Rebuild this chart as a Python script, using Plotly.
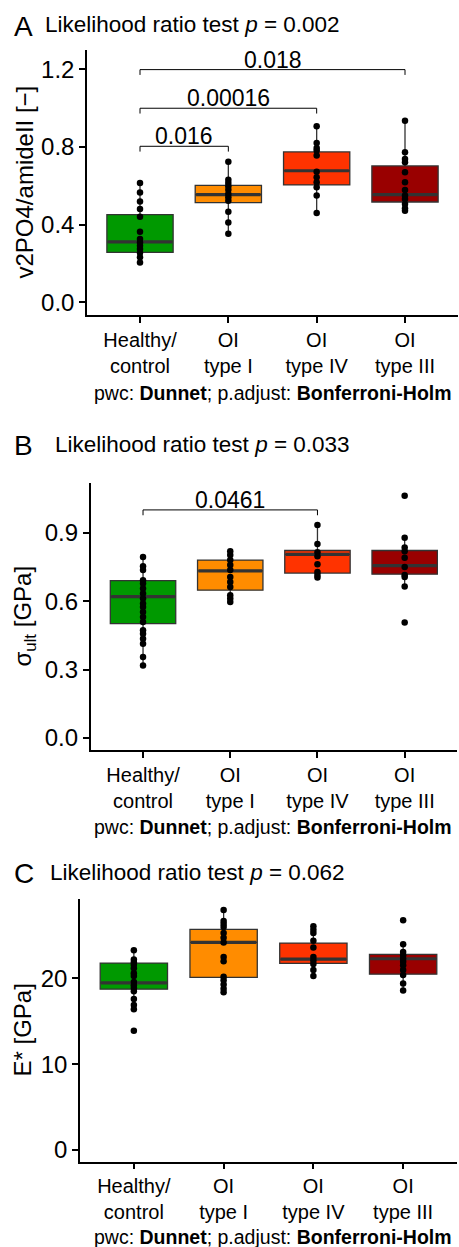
import plotly.graph_objects as go

W, H = 459, 1247

categories = ["Healthy/<br>control", "OI<br>type I", "OI<br>type IV", "OI<br>type III"]
fill_colors = ["#009900", "#FF8C00", "#FF3300", "#990000"]

# ---------------- Panel A: v2PO4/amideII ----------------
A_healthy = [0.615, 0.566, 0.519, 0.481, 0.441, 0.364, 0.326, 0.309, 0.292, 0.275, 0.254, 0.232, 0.206]
A_oi1 = [0.725, 0.632, 0.615, 0.598, 0.580, 0.558, 0.541, 0.524, 0.467, 0.412, 0.354]
A_oi4 = [0.907, 0.821, 0.795, 0.782, 0.756, 0.673, 0.644, 0.619, 0.593, 0.550, 0.460]
A_oi3 = [0.936, 0.773, 0.739, 0.722, 0.670, 0.619, 0.579, 0.550, 0.532, 0.507, 0.485, 0.472]
A_q1 = [0.258, 0.514, 0.605, 0.517]
A_med = [0.312, 0.555, 0.678, 0.555]
A_q3 = [0.452, 0.603, 0.775, 0.703]
A_lo = [0.206, 0.354, 0.460, 0.472]
A_hi = [0.615, 0.725, 0.907, 0.936]
A_pwc = [(1, 2, 0.804, "0.016"), (1, 3, 1.000, "0.00016"), (1, 4, 1.199, "0.018")]
A_ticks = [0.0, 0.4, 0.8, 1.2]
A_ticktext = ["0.0", "0.4", "0.8", "1.2"]

# ---------------- Panel B: sigma_ult ----------------
B_healthy = [0.794, 0.753, 0.736, 0.692, 0.677, 0.655, 0.633, 0.611, 0.589, 0.574, 0.552,
             0.530, 0.508, 0.472, 0.457, 0.435, 0.413, 0.355, 0.318]
B_oi1 = [0.819, 0.802, 0.780, 0.758, 0.736, 0.706, 0.684, 0.662, 0.626, 0.611, 0.596]
B_oi4 = [0.934, 0.850, 0.814, 0.797, 0.762, 0.728, 0.714, 0.704]
B_oi3 = [1.062, 0.878, 0.835, 0.819, 0.790, 0.750, 0.714, 0.706, 0.664, 0.506]
B_q1 = [0.501, 0.648, 0.723, 0.718]
B_med = [0.620, 0.733, 0.805, 0.756]
B_q3 = [0.690, 0.780, 0.822, 0.822]
B_lo = [0.318, 0.596, 0.704, 0.664]
B_hi = [0.794, 0.819, 0.934, 0.878]
B_pwc = [(1, 3, 1.000, "0.0461")]
B_ticks = [0.0, 0.3, 0.6, 0.9]
B_ticktext = ["0.0", "0.3", "0.6", "0.9"]

# ---------------- Panel C: E* ----------------
C_healthy = [23.3, 22.2, 21.9, 21.6, 21.2, 20.6, 20.3, 19.6, 19.2, 18.9, 18.5, 17.6, 16.9, 16.4, 13.9]
C_oi1 = [28.0, 26.7, 26.35, 26.0, 25.3, 24.75, 24.2, 22.5, 22.0, 20.2, 19.8, 19.3, 18.8, 18.4]
C_oi4 = [26.1, 25.7, 25.3, 24.4, 23.6, 22.5, 22.1, 21.7, 21.0, 20.3]
C_oi3 = [26.8, 24.0, 23.1, 22.7, 22.3, 21.95, 21.55, 21.0, 20.4, 19.4, 18.6]
C_q1 = [18.75, 20.12, 21.75, 20.50]
C_med = [19.49, 24.21, 22.26, 22.30]
C_q3 = [21.79, 25.73, 24.13, 22.81]
C_lo = [16.4, 18.4, 20.3, 18.6]
C_hi = [23.3, 28.0, 26.1, 24.0]
C_pwc = []
C_ticks = [0, 10, 20]
C_ticktext = ["0", "10", "20"]

titles = ["Likelihood ratio test <i>p</i> = 0.002",
          "Likelihood ratio test <i>p</i> = 0.033",
          "Likelihood ratio test <i>p</i> = 0.062"]
letters = ["A", "B", "C"]
ytitles = ["v2PO4/amideII [−]", "σ<sub>ult</sub> [GPa]", "E* [GPa]"]
caption = "pwc: <b>Dunnet</b>; p.adjust: <b>Bonferroni-Holm</b>"

FONT = "Liberation Sans, Arial, Helvetica, sans-serif"
BOXLINE = "#333333"


def px_x(x):
    return x / W


def px_y(y):
    return 1 - y / H


panels = [
    dict(groups=[A_healthy, A_oi1, A_oi4, A_oi3], q1=A_q1, med=A_med, q3=A_q3, lo=A_lo, hi=A_hi,
         pwc=A_pwc, ticks=A_ticks, ticktext=A_ticktext, yrange=[-0.065, 1.30],
         box=(87, 50, 458, 315), letter_xy=(12, 27), title_x=43, title_y=25,
         ytitle_x=24, caption_y=393),
    dict(groups=[B_healthy, B_oi1, B_oi4, B_oi3], q1=B_q1, med=B_med, q3=B_q3, lo=B_lo, hi=B_hi,
         pwc=B_pwc, ticks=B_ticks, ticktext=B_ticktext, yrange=[-0.053, 1.118],
         box=(90.7, 483, 457, 750), letter_xy=(12, 445), title_x=53, title_y=444,
         ytitle_x=24, caption_y=827),
    dict(groups=[C_healthy, C_oi1, C_oi4, C_oi3], q1=C_q1, med=C_med, q3=C_q3, lo=C_lo, hi=C_hi,
         pwc=C_pwc, ticks=C_ticks, ticktext=C_ticktext, yrange=[-1.39, 29.24],
         box=(80, 899.3, 457, 1161.7), letter_xy=(12, 873), title_x=48, title_y=872,
         ytitle_x=22, caption_y=1237),
]

fig = go.Figure()
annotations = []
BOX_W = 0.75

for p_i, pn in enumerate(panels):
    sfx = "" if p_i == 0 else str(p_i + 1)
    xa, ya = "x" + sfx, "y" + sfx
    yspan = pn["yrange"][1] - pn["yrange"][0]
    for g in range(4):
        xc = g + 1
        fig.add_trace(go.Box(
            x=[xc], q1=[pn["q1"][g]], median=[pn["med"][g]], q3=[pn["q3"][g]],
            lowerfence=[pn["lo"][g]], upperfence=[pn["hi"][g]],
            width=BOX_W, whiskerwidth=0, boxpoints=False,
            fillcolor=fill_colors[g], line=dict(color=BOXLINE, width=1.3),
            xaxis=xa, yaxis=ya, showlegend=False, hoverinfo="skip"))
        # thick median line (ggplot fatten)
        fig.add_trace(go.Scatter(
            x=[xc - BOX_W / 2 + 0.01, xc + BOX_W / 2 - 0.01], y=[pn["med"][g]] * 2,
            mode="lines", line=dict(color=BOXLINE, width=3.2),
            xaxis=xa, yaxis=ya, showlegend=False, hoverinfo="skip"))
    for g in range(4):
        vals = pn["groups"][g]
        fig.add_trace(go.Scatter(
            x=[g + 1] * len(vals), y=vals, mode="markers",
            marker=dict(color="black", size=6.5),
            xaxis=xa, yaxis=ya, showlegend=False, hoverinfo="skip"))
    tip = 0.02 * yspan
    for (g1, g2, yb, lab) in pn["pwc"]:
        fig.add_trace(go.Scatter(
            x=[g1, g1, g2, g2], y=[yb - tip, yb, yb, yb - tip], mode="lines",
            line=dict(color="black", width=1),
            xaxis=xa, yaxis=ya, showlegend=False, hoverinfo="skip"))
        annotations.append(dict(
            x=(g1 + g2) / 2, y=yb, xref=xa, yref=ya, text=lab, showarrow=False,
            yanchor="bottom", yshift=-5, font=dict(size=23, color="black", family=FONT)))

    x0, y0, x1, y1 = pn["box"]
    axis_common = dict(showline=True, linecolor="black", linewidth=1.5, ticks="outside",
                       ticklen=6, tickwidth=1.5, tickcolor="black", showgrid=False,
                       zeroline=False, mirror=False)
    fig.update_layout(**{
        ("xaxis" + sfx): dict(domain=[px_x(x0), px_x(x1)], range=[0.4, 4.6], anchor=ya,
                              tickvals=[1, 2, 3, 4], ticktext=categories,
                              tickfont=dict(size=20, color="black", family=FONT),
                              **axis_common),
        ("yaxis" + sfx): dict(domain=[px_y(y1), px_y(y0)], range=pn["yrange"], anchor=xa,
                              tickvals=pn["ticks"], ticktext=pn["ticktext"],
                              tickfont=dict(size=24, color="black", family=FONT),
                              **axis_common),
    })

    lx, ly = pn["letter_xy"]
    annotations.append(dict(x=px_x(lx), y=px_y(ly), xref="paper", yref="paper",
                            text=letters[p_i], showarrow=False, xanchor="left", yanchor="middle",
                            font=dict(size=28, color="black", family=FONT)))
    annotations.append(dict(x=px_x(pn["title_x"]), y=px_y(pn["title_y"]), xref="paper", yref="paper",
                            text=titles[p_i], showarrow=False, xanchor="left", yanchor="middle",
                            font=dict(size=22.5, color="black", family=FONT)))
    annotations.append(dict(x=px_x(pn["ytitle_x"]), y=px_y((y0 + y1) / 2), xref="paper", yref="paper",
                            text=ytitles[p_i], showarrow=False, textangle=-90,
                            xanchor="center", yanchor="middle",
                            font=dict(size=24, color="black", family=FONT)))
    annotations.append(dict(x=px_x(454), y=px_y(pn["caption_y"]), xref="paper", yref="paper",
                            text=caption, showarrow=False, xanchor="right", yanchor="middle",
                            font=dict(size=19.5, color="black", family=FONT)))

fig.update_layout(width=W, height=H, margin=dict(l=0, r=0, t=0, b=0),
                  paper_bgcolor="white", plot_bgcolor="white",
                  annotations=annotations, font=dict(family=FONT, color="black"))

fig.write_html("out.html", config={"displayModeBar": False})
